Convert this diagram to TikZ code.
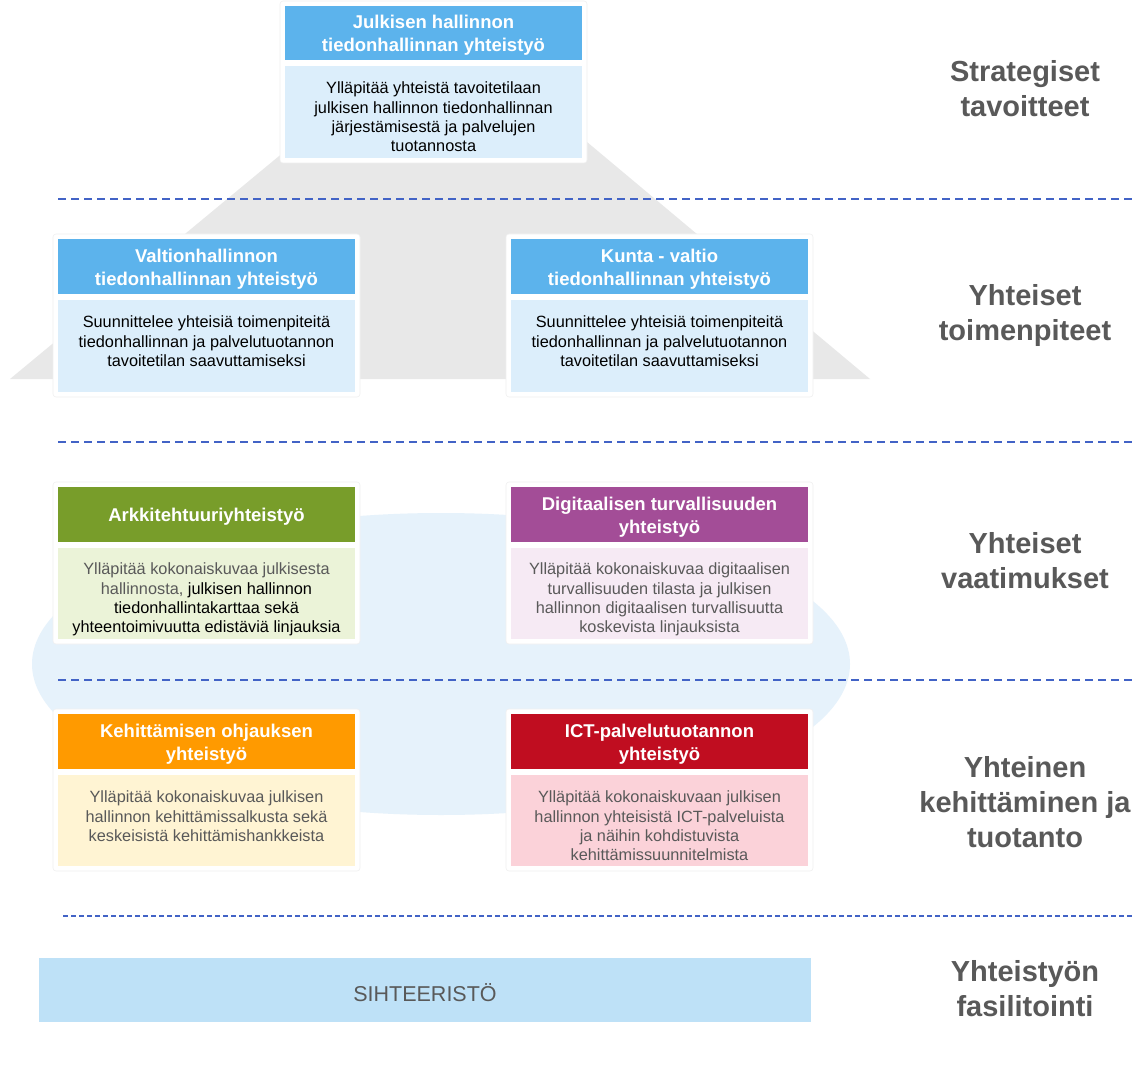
\documentclass[tikz,border=0pt]{standalone}
\usepackage{fontspec}
\setmainfont{Liberation Sans}
\definecolor{hdrblue}{HTML}{5CB3EC}
\definecolor{bodyblue}{HTML}{DCEEFB}
\definecolor{hdrgreen}{HTML}{789D2A}
\definecolor{bodygreen}{HTML}{EBF3D8}
\definecolor{hdrpurple}{HTML}{A34D97}
\definecolor{bodypurple}{HTML}{F6EAF4}
\definecolor{hdrorange}{HTML}{FF9A00}
\definecolor{bodyorange}{HTML}{FFF4D3}
\definecolor{hdrred}{HTML}{C00D20}
\definecolor{bodyred}{HTML}{FBD2D9}
\definecolor{sihblue}{HTML}{BEE1F7}
\definecolor{shapegray}{HTML}{E8E8E8}
\definecolor{cloudblue}{HTML}{E6F2FB}
\definecolor{dashblue}{HTML}{4263C6}
\definecolor{textgray}{HTML}{595959}
\begin{document}
\begin{tikzpicture}[x=1pt,y=-1pt,
  hdr/.style={rectangle, inner sep=0pt, minimum width=297pt, minimum height=55pt},
  hdrtext/.style={inner sep=0pt, text=white, align=center, font=\fontsize{18.5}{23}\selectfont\bfseries},
  bodybox/.style={rectangle, inner sep=0pt, minimum width=297pt, minimum height=91pt},
  bodytext/.style={anchor=north, inner sep=0pt, align=center, font=\fontsize{16.3}{19.3}\selectfont},
  cardframe/.style={rectangle, rounded corners=3pt, fill=white, draw=black!6, line width=0.6pt, inner sep=0pt, minimum width=307pt, minimum height=162pt},
  dashline/.style={draw=dashblue, line width=2pt, dash pattern=on 8pt off 5pt},
  lbl/.style={align=center, text=textgray, font=\fontsize{29}{35}\selectfont\bfseries}
]
\useasboundingbox (0,0) rectangle (1135,1091);
\fill[white] (0,0) rectangle (1135,1091);

% background shapes
\fill[shapegray] (296,142) -- (587,142) -- (870,379) -- (10,379) -- cycle;
\fill[cloudblue] (441,664) ellipse [x radius=409pt, y radius=151pt];

% dashed separators
\coordinate (d1a) at (58,199);  \coordinate (d1b) at (1135,199);
\coordinate (d2a) at (58,442);  \coordinate (d2b) at (1135,442);
\coordinate (d3a) at (58,680);  \coordinate (d3b) at (1135,680);
\coordinate (d4a) at (63,916);  \coordinate (d4b) at (1135,916);
\draw[dashline] (d1a) -- (d1b);
\draw[dashline] (d2a) -- (d2b);
\draw[dashline] (d3a) -- (d3b);
\draw[dashline, dash pattern=on 5pt off 3pt] (d4a) -- (d4b);

% top card
\node[cardframe] (f1) at (433.5,82) {};
\node[hdr, fill=hdrblue, minimum height=54pt] (h1) at (433.5,33) {};
\node[hdrtext] (ht1) at ([yshift=-2.5pt]h1.center) {Julkisen hallinnon\\tiedonhallinnan yhteistyö};
\node[bodybox, fill=bodyblue, minimum height=92pt] (b1) at (433.5,112) {};
\node[bodytext] (t1) at ([yshift=-16pt]b1.north) {Ylläpitää yhteistä tavoitetilaan\\julkisen hallinnon tiedonhallinnan\\järjestämisestä ja palvelujen\\tuotannosta};

% row 2
\node[cardframe, minimum height=163pt] (f2) at (206.5,315.5) {};
\node[hdr, fill=hdrblue] (h2) at (206.5,266.5) {};
\node[hdrtext] (ht2) at ([yshift=-2.5pt]h2.center) {Valtionhallinnon\\tiedonhallinnan yhteistyö};
\node[bodybox, fill=bodyblue, minimum height=92pt] (b2) at (206.5,346) {};
\node[bodytext] (t2) at ([yshift=-16pt]b2.north) {Suunnittelee yhteisiä toimenpiteitä\\tiedonhallinnan ja palvelutuotannon\\tavoitetilan saavuttamiseksi};

\node[cardframe, minimum height=163pt] (f3) at (659.5,315.5) {};
\node[hdr, fill=hdrblue] (h3) at (659.5,266.5) {};
\node[hdrtext] (ht3) at ([yshift=-2.5pt]h3.center) {Kunta - valtio\\tiedonhallinnan yhteistyö};
\node[bodybox, fill=bodyblue, minimum height=92pt] (b3) at (659.5,346) {};
\node[bodytext] (t3) at ([yshift=-16pt]b3.north) {Suunnittelee yhteisiä toimenpiteitä\\tiedonhallinnan ja palvelutuotannon\\tavoitetilan saavuttamiseksi};

% row 3
\node[cardframe] (f4) at (206.5,563) {};
\node[hdr, fill=hdrgreen] (h4) at (206.5,514.5) {};
\node[hdrtext] (ht4) at ([yshift=-2pt]h4.center) {Arkkitehtuuriyhteistyö};
\node[bodybox, fill=bodygreen] (b4) at (206.5,593.5) {};
\node[bodytext] (t4) at ([yshift=-15pt]b4.north) {\textcolor{textgray}{Ylläpitää kokonaiskuvaa julkisesta}\\\textcolor{textgray}{hallinnosta,} julkisen hallinnon\\tiedonhallintakarttaa sekä\\yhteentoimivuutta edistäviä linjauksia};

\node[cardframe] (f5) at (659.5,563) {};
\node[hdr, fill=hdrpurple] (h5) at (659.5,514.5) {};
\node[hdrtext] (ht5) at ([yshift=-2.5pt]h5.center) {Digitaalisen turvallisuuden\\yhteistyö};
\node[bodybox, fill=bodypurple] (b5) at (659.5,593.5) {};
\node[bodytext, text=textgray] (t5) at ([yshift=-15pt]b5.north) {Ylläpitää kokonaiskuvaa digitaalisen\\turvallisuuden tilasta ja julkisen\\hallinnon digitaalisen turvallisuutta\\koskevista linjauksista};

% row 4
\node[cardframe] (f6) at (206.5,790) {};
\node[hdr, fill=hdrorange] (h6) at (206.5,741.5) {};
\node[hdrtext] (ht6) at ([yshift=-2.5pt]h6.center) {Kehittämisen ohjauksen\\yhteistyö};
\node[bodybox, fill=bodyorange] (b6) at (206.5,820.5) {};
\node[bodytext, text=textgray] (t6) at ([yshift=-16pt]b6.north) {Ylläpitää kokonaiskuvaa julkisen\\hallinnon kehittämissalkusta sekä\\keskeisistä kehittämishankkeista};

\node[cardframe] (f7) at (659.5,790) {};
\node[hdr, fill=hdrred] (h7) at (659.5,741.5) {};
\node[hdrtext] (ht7) at ([yshift=-2.5pt]h7.center) {ICT-palvelutuotannon\\yhteistyö};
\node[bodybox, fill=bodyred] (b7) at (659.5,820.5) {};
\node[bodytext, text=textgray] (t7) at ([yshift=-16pt]b7.north) {Ylläpitää kokonaiskuvaan julkisen\\hallinnon yhteisistä ICT-palveluista\\ja näihin kohdistuvista\\kehittämissuunnitelmista};

% secretariat
\node[rectangle, inner sep=0pt, fill=sihblue, minimum width=772pt, minimum height=64pt] (sih) at (425,990) {};
\node[inner sep=0pt, text=textgray, font=\fontsize{21.5}{24}\selectfont] (siht) at ([yshift=-3pt]sih.center) {SIHTEERISTÖ};

% right labels
\node[lbl] (l1) at (1025,89) {Strategiset\\tavoitteet};
\node[lbl] (l2) at (1025,315.5) {Yhteiset\\toimenpiteet};
\node[lbl] (l3) at (1025,561) {Yhteiset\\vaatimukset};
\node[lbl] (l4) at (1025,802.5) {Yhteinen\\kehittäminen ja\\tuotanto};
\node[lbl] (l5) at (1025,989) {Yhteistyön\\fasilitointi};
\end{tikzpicture}
\end{document}
